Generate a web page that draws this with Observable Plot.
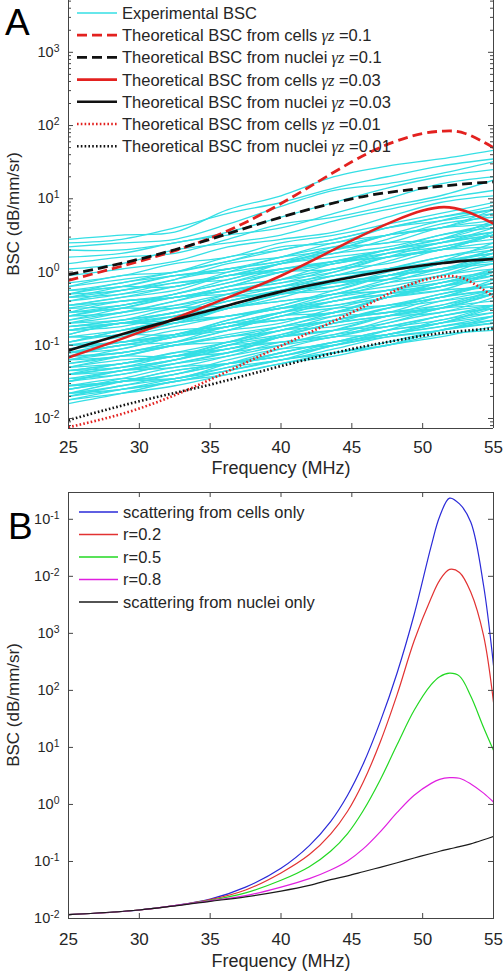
<!DOCTYPE html>
<html><head><meta charset="utf-8">
<script src="https://cdn.jsdelivr.net/npm/d3@7"></script>
<script src="https://cdn.jsdelivr.net/npm/@observablehq/plot@0.6"></script>
<style>
body{margin:0;background:#fff;}
#wrap{position:relative;width:503px;height:975px;overflow:hidden;font-family:"Liberation Sans",Arial,sans-serif;}
#wrap svg{position:absolute;left:0;}
</style></head><body><div id="wrap"></div>
<script>
// ---------- data: panel A ----------
const freqExp = [25, 28.75, 32.5, 36.25, 40, 43.75, 47.5, 51.25, 55];
const experimentalBSC = [
  [2.8,3.2,3.5,7.1,11,20,28,35,46],
  [2.5,2.8,4.0,6.3,8.9,14,20,28,35],
  [2.2,2.5,2.8,4.5,7.9,13,16,22,32],
  [2.0,2.0,2.5,3.5,5.6,8.9,14,20,25],
  [1.6,1.8,2.5,3.2,4.0,6.3,10,16,20],
  [1.3,1.6,1.8,2.8,4.5,5.6,7.9,11,18],
  [1.1,1.3,2.0,2.5,3.2,5.0,7.1,10,13],
  [0.89,1.1,1.4,2.2,2.8,3.5,5.6,8.9,11],
  [0.71,0.89,1.3,1.6,2.5,3.2,4.5,6.3,8.9],
  [0.63,0.79,1.0,1.6,2.0,2.8,4.0,5.6,7.9],
  [0.56,0.71,1.0,1.4,2.0,2.8,4.0,5.0,6.3],
  [0.50,0.71,0.89,1.1,1.6,2.5,3.2,4.0,6.3],
  [0.50,0.56,0.79,1.3,1.6,2.0,3.2,5.0,7.1],
  [0.45,0.56,0.71,0.89,1.3,2.0,3.2,4.0,4.5],
  [0.40,0.56,0.79,1.1,1.4,1.8,2.2,3.2,4.5],
  [0.35,0.45,0.63,0.89,1.1,1.4,2.0,2.8,3.5],
  [0.35,0.40,0.50,0.79,1.1,1.3,1.8,2.5,4.0],
  [0.32,0.40,0.45,0.63,1.0,1.4,1.8,2.2,3.2],
  [0.28,0.35,0.50,0.71,1.0,1.4,2.0,2.5,3.2],
  [0.25,0.35,0.45,0.56,0.79,1.3,1.6,2.0,3.2],
  [0.25,0.28,0.40,0.63,0.79,1.0,1.6,2.5,3.5],
  [0.22,0.28,0.35,0.45,0.63,1.0,1.6,2.0,2.2],
  [0.20,0.28,0.40,0.56,0.71,0.89,1.1,1.6,2.2],
  [0.20,0.25,0.35,0.50,0.63,0.79,1.1,1.6,2.0],
  [0.18,0.20,0.25,0.40,0.56,0.63,0.89,1.3,2.0],
  [0.16,0.20,0.22,0.32,0.50,0.71,0.89,1.1,1.6],
  [0.16,0.20,0.28,0.40,0.56,0.79,1.1,1.4,1.8],
  [0.14,0.20,0.25,0.32,0.45,0.71,0.89,1.1,1.8],
  [0.13,0.14,0.20,0.32,0.40,0.50,0.79,1.3,1.8],
  [0.13,0.16,0.20,0.25,0.35,0.56,0.89,1.1,1.3],
  [0.11,0.16,0.22,0.32,0.40,0.50,0.63,0.89,1.3],
  [0.10,0.13,0.18,0.25,0.32,0.40,0.56,0.79,1.0],
  [0.10,0.11,0.14,0.22,0.32,0.35,0.50,0.71,1.1],
  [0.089,0.11,0.13,0.18,0.28,0.40,0.50,0.63,0.89],
  [0.079,0.10,0.14,0.20,0.28,0.40,0.56,0.71,0.89],
  [0.079,0.11,0.14,0.18,0.25,0.40,0.50,0.63,1.0],
  [0.071,0.079,0.11,0.18,0.22,0.28,0.45,0.71,1.0],
  [0.063,0.079,0.10,0.13,0.18,0.28,0.45,0.56,0.63],
  [0.063,0.089,0.13,0.18,0.22,0.28,0.35,0.50,0.71],
  [0.056,0.071,0.10,0.14,0.18,0.22,0.32,0.45,0.56],
  [0.050,0.056,0.071,0.11,0.16,0.18,0.25,0.35,0.56],
  [0.050,0.063,0.071,0.10,0.16,0.22,0.28,0.35,0.50],
  [0.045,0.056,0.079,0.11,0.16,0.22,0.32,0.40,0.50],
  [0.040,0.056,0.071,0.089,0.13,0.20,0.25,0.32,0.50],
  [0.040,0.045,0.063,0.10,0.13,0.16,0.25,0.40,0.56],
  [0.035,0.045,0.056,0.071,0.10,0.16,0.25,0.32,0.35],
  [0.032,0.045,0.063,0.089,0.11,0.14,0.18,0.25,0.35],
  [0.032,0.040,0.056,0.079,0.10,0.13,0.18,0.25,0.32],
  [0.028,0.032,0.040,0.063,0.089,0.10,0.14,0.20,0.32],
  [0.025,0.032,0.035,0.050,0.079,0.11,0.14,0.18,0.25],
  [0.022,0.028,0.040,0.056,0.079,0.11,0.16,0.20,0.25],
  [0.020,0.028,0.035,0.045,0.063,0.10,0.13,0.16,0.25],
  [0.016,0.022,0.032,0.040,0.056,0.079,0.10,0.14,0.16],
  [0.018,0.025,0.035,0.050,0.063,0.089,0.13,0.16,0.20],
  [0.020,0.025,0.032,0.045,0.063,0.079,0.11,0.16,0.22],
  [0.018,0.022,0.028,0.040,0.056,0.071,0.10,0.13,0.18],
  [0.022,0.032,0.045,0.056,0.071,0.10,0.14,0.18,0.22],
  [0.025,0.032,0.040,0.056,0.079,0.11,0.14,0.20,0.28],
  [0.63,0.89,1.0,1.4,2.2,2.5,4.0,5.6,7.1],
  [0.56,0.63,0.89,1.1,1.4,2.2,3.2,4.0,7.1],
  [0.50,0.63,0.63,1.0,1.6,2.2,2.5,4.0,5.0],
  [0.45,0.63,0.89,1.0,1.3,1.8,2.8,4.5,5.6],
  [0.45,0.50,0.63,0.89,1.3,1.6,2.0,3.2,4.0],
  [0.40,0.50,0.71,0.79,1.3,2.0,2.5,2.8,4.5],
  [0.35,0.45,0.56,0.89,1.0,1.3,2.0,2.8,5.0],
  [0.32,0.35,0.50,0.71,1.1,1.4,1.6,2.0,3.2],
  [0.28,0.40,0.45,0.63,1.0,1.1,1.8,2.5,3.2],
  [0.28,0.32,0.45,0.56,0.71,1.1,1.6,2.0,3.5],
  [0.25,0.32,0.32,0.50,0.79,1.1,1.3,2.0,2.5],
  [0.22,0.32,0.45,0.50,0.63,0.89,1.4,2.2,2.8],
  [0.20,0.22,0.28,0.40,0.56,0.71,0.89,1.4,1.8],
  [0.18,0.22,0.32,0.35,0.56,0.89,1.1,1.3,2.0],
  [0.18,0.22,0.28,0.45,0.50,0.63,1.0,1.4,2.5],
  [0.16,0.18,0.25,0.35,0.56,0.71,0.79,1.0,1.6],
  [0.14,0.20,0.22,0.32,0.50,0.56,0.89,1.3,1.6],
  [0.13,0.14,0.20,0.25,0.32,0.50,0.71,0.89,1.6],
  [0.11,0.14,0.14,0.22,0.35,0.50,0.56,0.89,1.1],
  [0.11,0.16,0.22,0.25,0.32,0.45,0.71,1.1,1.4],
  [0.10,0.11,0.14,0.20,0.28,0.35,0.45,0.71,0.89],
  [0.089,0.11,0.16,0.18,0.28,0.45,0.56,0.63,1.0],
  [0.079,0.10,0.13,0.20,0.22,0.28,0.45,0.63,1.1],
  [0.071,0.079,0.11,0.16,0.25,0.32,0.35,0.45,0.71],
  [0.071,0.10,0.11,0.16,0.25,0.28,0.45,0.63,0.79],
  [0.063,0.071,0.10,0.13,0.16,0.25,0.35,0.45,0.79],
  [0.056,0.071,0.071,0.11,0.18,0.25,0.28,0.45,0.56],
  [0.050,0.071,0.10,0.11,0.14,0.20,0.32,0.50,0.63],
  [0.045,0.050,0.063,0.089,0.13,0.16,0.20,0.32,0.40],
  [0.045,0.056,0.079,0.089,0.14,0.22,0.28,0.32,0.50],
  [0.040,0.050,0.063,0.10,0.11,0.14,0.22,0.32,0.56],
  [0.035,0.040,0.056,0.079,0.13,0.16,0.18,0.22,0.35],
  [0.032,0.045,0.050,0.071,0.11,0.13,0.20,0.28,0.35],
  [0.028,0.032,0.045,0.056,0.071,0.11,0.16,0.20,0.35],
  [0.028,0.035,0.035,0.056,0.089,0.13,0.14,0.22,0.28],
  [0.025,0.035,0.050,0.056,0.071,0.10,0.16,0.25,0.32],
  [0.022,0.025,0.032,0.045,0.063,0.079,0.10,0.16,0.20],
  [0.040,0.050,0.071,0.079,0.13,0.20,0.25,0.28,0.45],
  [0.079,0.089,0.13,0.16,0.20,0.32,0.45,0.56,1.0],
  [0.16,0.20,0.20,0.32,0.50,0.71,0.79,1.3,1.6]
];
const freqTheory = [25, 30, 35, 40, 45, 48, 50, 51.5, 53, 55];
const cellsG010   = [0.77, 1.4, 2.9, 8.6, 32, 60, 78, 84, 78, 50];
const nucleiG010  = [0.92, 1.5, 2.8, 5.6, 10, 12.5, 14, 15, 16, 17];
const cellsG003   = [0.068, 0.15, 0.36, 0.89, 2.7, 5.0, 6.9, 7.7, 6.8, 4.6];
const nucleiG003  = [0.085, 0.166, 0.30, 0.54, 0.85, 1.08, 1.23, 1.33, 1.42, 1.5];
const cellsG001   = [0.0076, 0.0137, 0.034, 0.098, 0.28, 0.55, 0.77, 0.87, 0.8, 0.46];
const nucleiG001  = [0.0095, 0.0172, 0.029, 0.052, 0.089, 0.115, 0.135, 0.148, 0.158, 0.17];

// ---------- data: panel B ----------
const freqB = [25, 30, 35, 37.5, 40, 42, 43.5, 44.7, 45.8, 47, 48.2, 49.4, 50.6, 51.2, 51.9, 52.6, 53.4, 54.3, 55];
const cellsOnly  = [0.0117,0.0141,0.0219,0.0355,0.076,0.19,0.50,1.45,5.1,28,204,2140,33900,112000,235000,186000,89000,6900,275];
const r02        = [0.0117,0.0141,0.0214,0.0316,0.063,0.132,0.302,0.76,2.45,12.3,85,741,4170,8510,13200,11700,5250,912,62];
const r05        = [0.0117,0.0141,0.0209,0.0282,0.0468,0.081,0.151,0.309,0.776,2.69,11.2,44.7,126,174,200,178,79,22.4,8.9];
const r08        = [0.0117,0.0141,0.0204,0.0251,0.0355,0.05,0.0708,0.102,0.166,0.331,0.724,1.45,2.34,2.75,2.95,2.88,2.29,1.58,1.1];
const nucleiOnly = [0.0117,0.0141,0.020,0.024,0.0302,0.038,0.0479,0.056,0.066,0.079,0.095,0.115,0.138,0.151,0.166,0.182,0.204,0.24,0.275];

// ---------- ticks ----------
const xTicks = [25, 30, 35, 40, 45, 50, 55];
const yTicksA = [0.01, 0.1, 1, 10, 100, 1000];
const yTickLabelsA = ["10^-2", "10^-1", "10^0", "10^1", "10^2", "10^3"];
const yTicksB = [0.01, 0.1, 1, 10, 100, 1000, 10000, 100000];
const yTickLabelsB = ["10^-2", "10^-1", "10^0", "10^1", "10^2", "10^3", "10^-2", "10^-1"];

// ---------- styles ----------
const CYAN = "#35dfe5", RED = "#e3211f", BLK = "#111111";
const AX = "#444444", TXT = "#262626";
const FONT = "Liberation Sans, Arial, sans-serif";
const W = 503, ML = 68, MR = 10;

const wrap = document.getElementById("wrap");
const series = (xs, ys) => xs.map((f, i) => ({f, v: ys[i]}));

function supLabels(svg) {
  d3.select(svg).selectAll('g[aria-label="y-axis tick label"] text').each(function () {
    const t = d3.select(this);
    const s = t.text();
    const [b, e] = s.split("^");
    t.text(null);
    t.append("tspan").text(b);
    t.append("tspan").attr("dy", "-0.5em").attr("font-size", "0.72em").text(e);
  });
}

function addText(svg, x, y, txt, opts = {}) {
  const t = d3.select(svg).append("text")
    .attr("x", x).attr("y", y).attr("fill", opts.fill || TXT)
    .attr("font-family", opts.family || FONT)
    .attr("font-size", opts.size || 17)
    .attr("text-anchor", opts.anchor || "middle")
    .attr("dominant-baseline", opts.baseline || "middle")
    .text(txt);
  if (opts.rotate) t.attr("transform", `rotate(-90 ${x} ${y})`);
  return t;
}

function legend(svg, items, x0, x1, tx, y0, dy, fs) {
  const g = d3.select(svg).append("g").attr("font-family", FONT).attr("font-size", fs)
    .attr("fill", TXT).attr("text-anchor", "start");
  items.forEach((it, i) => {
    const y = y0 + i * dy;
    g.append("line").attr("x1", x0).attr("x2", x1).attr("y1", y).attr("y2", y)
      .attr("stroke", it.color).attr("stroke-width", it.width)
      .attr("stroke-linecap", "butt")
      .attr("stroke-dasharray", it.dash || null);
    const t = g.append("text").attr("x", tx).attr("y", y).attr("dy", "0.36em").attr("text-anchor", "start");
    t.append("tspan").text(it.label);
    if (it.gamma) {
      t.append("tspan").attr("font-family", "Liberation Serif, serif").attr("font-style", "italic")
        .text(" \u03B3z");
      t.append("tspan").text(" =" + it.gamma);
    }
  });
}

// ---------- Panel A ----------
const HA = 480, MBA = 52, MTA = 0;
const innerWA = W - ML - MR, innerHA = HA - MTA - MBA;
const yDomainA = [0.0073, 5100];
const minorA = d3.scaleLog().domain(yDomainA).ticks().filter(t => Math.abs(Math.log10(t) - Math.round(Math.log10(t))) > 1e-6);
const expRows = experimentalBSC.flatMap((vals, id) => vals.map((v, j) => ({id, f: freqExp[j], v})));
const DASH = "10,5", DOT = "1.6,2.2";
const theoryA = [
  {ys: cellsG010, color: RED, dash: DASH, width: 2.8},
  {ys: nucleiG010, color: BLK, dash: DASH, width: 2.8},
  {ys: cellsG003, color: RED, dash: null, width: 2.6},
  {ys: nucleiG003, color: BLK, dash: null, width: 2.6},
  {ys: cellsG001, color: RED, dash: DOT, width: 2.6},
  {ys: nucleiG001, color: BLK, dash: DOT, width: 2.6}
];

const plotA = Plot.plot({
  width: W, height: HA, marginLeft: ML, marginRight: MR, marginTop: MTA, marginBottom: MBA,
  style: {fontFamily: FONT, color: TXT, background: "white", overflow: "visible"},
  x: {domain: [25, 55]},
  y: {type: "log", domain: yDomainA},
  marks: [
    Plot.line(expRows, {x: "f", y: "v", z: "id", stroke: CYAN, strokeWidth: 1.3, curve: "catmull-rom", clip: true}),
    ...theoryA.map(s => Plot.line(series(freqTheory, s.ys), {x: "f", y: "v", stroke: s.color, strokeWidth: s.width, strokeDasharray: s.dash, strokeLinecap: "butt", curve: "natural", clip: true})),
    Plot.ruleX([25, 55], {stroke: AX, strokeWidth: 1}),
    Plot.ruleY([yDomainA[0]], {stroke: AX, strokeWidth: 1}),
    Plot.tickX(xTicks, {x: d => d, stroke: AX, insetTop: innerHA - 5}),
    Plot.tickY(yTicksA, {y: d => d, stroke: AX, insetRight: innerWA - 5}),
    Plot.tickY(yTicksA, {y: d => d, stroke: AX, insetLeft: innerWA - 5}),
    Plot.tickY(minorA, {y: d => d, stroke: AX, insetRight: innerWA - 3}),
    Plot.tickY(minorA, {y: d => d, stroke: AX, insetLeft: innerWA - 3}),
    Plot.axisX(xTicks, {tickSize: 0, tickPadding: 12, fontSize: 17, label: null, tickFormat: d => String(d)}),
    Plot.axisY(yTicksA, {tickSize: 0, tickPadding: 9, fontSize: 14.5, label: null, tickFormat: d => yTickLabelsA[yTicksA.indexOf(d)]})
  ]
});
plotA.style.top = "0px";
wrap.appendChild(plotA);
supLabels(plotA);
addText(plotA, 281, 469, "Frequency (MHz)", {size: 18});
addText(plotA, 15, 214, "BSC (dB/mm/sr)", {size: 17, rotate: true});
addText(plotA, 5, 35, "A", {size: 37, anchor: "start", baseline: "alphabetic", fill: "#000"});
legend(plotA, [
  {label: "Experimental BSC", color: CYAN, width: 1.4},
  {label: "Theoretical BSC from cells", gamma: "0.1", color: RED, dash: DASH, width: 2.8},
  {label: "Theoretical BSC from nuclei", gamma: "0.1", color: BLK, dash: DASH, width: 2.8},
  {label: "Theoretical BSC from cells", gamma: "0.03", color: RED, width: 2.6},
  {label: "Theoretical BSC from nuclei", gamma: "0.03", color: BLK, width: 2.6},
  {label: "Theoretical BSC from cells", gamma: "0.01", color: RED, dash: DOT, width: 2.6},
  {label: "Theoretical BSC from nuclei", gamma: "0.01", color: BLK, dash: DOT, width: 2.6}
], 77, 117, 122, 13, 22.2, 16.5);

// ---------- Panel B ----------
const HB = 495, MTB = 12, MBB = 57;
const innerHB = HB - MTB - MBB;
const yDomainB = [0.01, 295000];
const theoryB = [
  {ys: cellsOnly, color: "#2a2ad8", label: "scattering from cells only"},
  {ys: r02, color: "#e23232", label: "r=0.2"},
  {ys: r05, color: "#22d822", label: "r=0.5"},
  {ys: r08, color: "#e01fe0", label: "r=0.8"},
  {ys: nucleiOnly, color: "#1a1a1a", label: "scattering from nuclei only"}
];
const plotB = Plot.plot({
  width: W, height: HB, marginLeft: ML, marginRight: MR, marginTop: MTB, marginBottom: MBB,
  style: {fontFamily: FONT, color: TXT, background: "white", overflow: "visible"},
  x: {domain: [25, 55]},
  y: {type: "log", domain: yDomainB},
  marks: [
    ...theoryB.map(s => Plot.line(series(freqB, s.ys), {x: "f", y: "v", stroke: s.color, strokeWidth: 1.2, curve: "catmull-rom", clip: true})),
    Plot.frame({stroke: AX, strokeWidth: 1}),
    Plot.tickX(xTicks, {x: d => d, stroke: AX, insetTop: innerHB - 5}),
    Plot.tickX(xTicks, {x: d => d, stroke: AX, insetBottom: innerHB - 5}),
    Plot.tickY(yTicksB, {y: d => d, stroke: AX, insetRight: innerWA - 5}),
    Plot.tickY(yTicksB, {y: d => d, stroke: AX, insetLeft: innerWA - 5}),
    Plot.axisX(xTicks, {tickSize: 0, tickPadding: 14, fontSize: 17, label: null, tickFormat: d => String(d)}),
    Plot.axisY(yTicksB, {tickSize: 0, tickPadding: 9, fontSize: 14.5, label: null, tickFormat: d => yTickLabelsB[yTicksB.indexOf(d)]})
  ]
});
plotB.style.top = "480px";
wrap.appendChild(plotB);
supLabels(plotB);
addText(plotB, 281, 482, "Frequency (MHz)", {size: 18});
addText(plotB, 15, 225, "BSC (dB/mm/sr)", {size: 17, rotate: true});
addText(plotB, 8, 59, "B", {size: 37, anchor: "start", baseline: "alphabetic", fill: "#000"});
legend(plotB, theoryB.map(s => ({label: s.label, color: s.color, width: 1.3})), 79, 118, 123, 32, 22.5, 16.5);
</script>
</body></html>
